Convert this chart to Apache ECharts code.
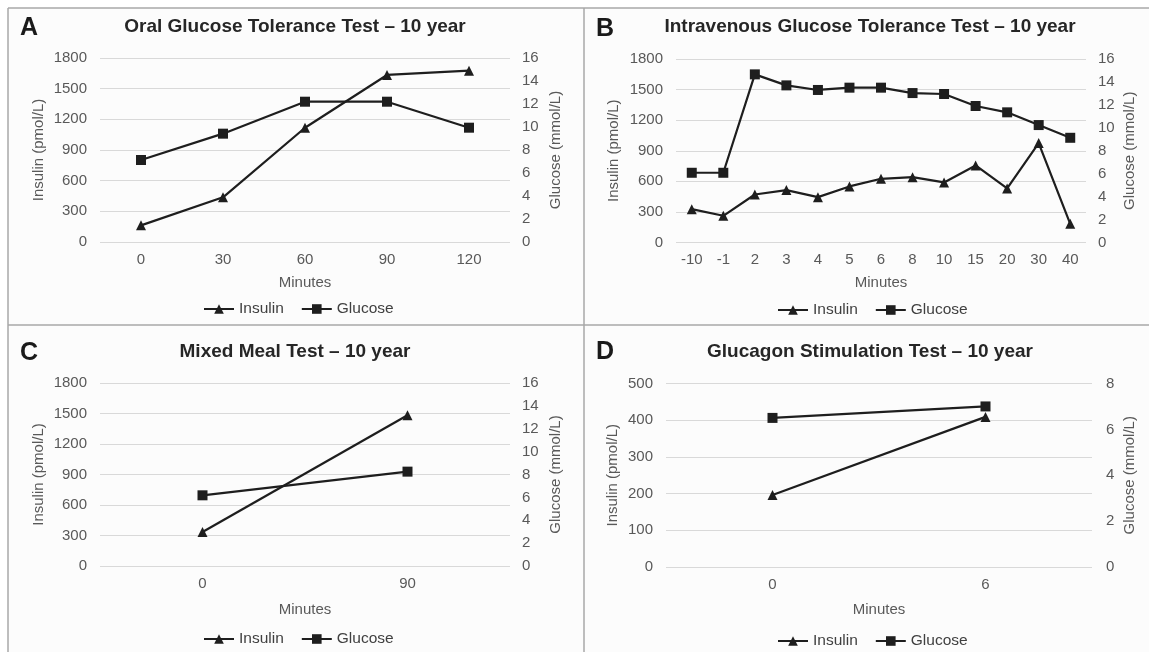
<!DOCTYPE html>
<html>
<head>
<meta charset="utf-8">
<script src="https://cdn.jsdelivr.net/npm/echarts@6/dist/echarts.min.js"></script>
<style>
html,body{margin:0;padding:0;background:#fff;}
#chart{width:1149px;height:652px;}
</style>
</head>
<body>
<div id="chart"></div>
<script>
// ---- Data ----
const seriesNames = ['Insulin', 'Glucose'];
const xName = 'Minutes';
const leftName = 'Insulin (pmol/L)';
const rightName = 'Glucose (mmol/L)';

const titleA = 'Oral Glucose Tolerance Test – 10 year';
const catA = ['0', '30', '60', '90', '120'];
const insulinA = [163, 437, 1118, 1634, 1676];
const glucoseA = [7.13, 9.42, 12.2, 12.2, 9.94];

const titleB = 'Intravenous Glucose Tolerance Test – 10 year';
const catB = ['-10', '-1', '2', '3', '4', '5', '6', '8', '10', '15', '20', '30', '40'];
const insulinB = [327, 262, 471, 514, 445, 550, 625, 641, 589, 756, 530, 975, 183];
const glucoseB = [6.08, 6.08, 14.66, 13.7, 13.3, 13.5, 13.5, 13.03, 12.95, 11.9, 11.35, 10.24, 9.13];

const titleC = 'Mixed Meal Test – 10 year';
const catC = ['0', '90'];
const insulinC = [334, 1482];
const glucoseC = [6.18, 8.25];

const titleD = 'Glucagon Stimulation Test – 10 year';
const catD = ['0', '6'];
const insulinD = [196, 409];
const glucoseD = [6.5, 7.0];

// axis scales [min, max, interval]
const insulinScaleABC = [0, 1800, 300];
const glucoseScaleABC = [0, 16, 2];
const insulinScaleD = [0, 500, 100];
const glucoseScaleD = [0, 8, 2];

// ---- Layout ----
const FONT = '"Liberation Sans", Arial, sans-serif';
const panels = [
  {letter: 'A', title: titleA, cat: catA, ins: insulinA, glu: glucoseA, sIns: insulinScaleABC, sGlu: glucoseScaleABC,
   grid: {left: 100, top: 58, width: 410, height: 184}, lGap: 54, rGap: 38, rMargin: 12, xGap: 33, legend: {left: 198, top: 296},
   titleX: 295, titleY: 27, letterX: 29, letterY: 28},
  {letter: 'B', title: titleB, cat: catB, ins: insulinB, glu: glucoseB, sIns: insulinScaleABC, sGlu: glucoseScaleABC,
   grid: {left: 676, top: 59, width: 410, height: 183.5}, lGap: 55, rGap: 36, rMargin: 12, xGap: 33, legend: {left: 772, top: 297},
   titleX: 870, titleY: 27, letterX: 605, letterY: 29},
  {letter: 'C', title: titleC, cat: catC, ins: insulinC, glu: glucoseC, sIns: insulinScaleABC, sGlu: glucoseScaleABC,
   grid: {left: 100, top: 383, width: 410, height: 183}, lGap: 54, rGap: 38, rMargin: 12, xGap: 36, legend: {left: 198, top: 626},
   titleX: 295, titleY: 352, letterX: 29, letterY: 353},
  {letter: 'D', title: titleD, cat: catD, ins: insulinD, glu: glucoseD, sIns: insulinScaleD, sGlu: glucoseScaleD,
   grid: {left: 666, top: 383.5, width: 426, height: 183.5}, lGap: 46, rGap: 30, rMargin: 14, xGap: 35, legend: {left: 772, top: 628},
   titleX: 870, titleY: 352, letterX: 605, letterY: 352}
];

const grids = [], xAxes = [], yAxes = [], series = [], legends = [], graphics = [];

// background + frame lines
graphics.push({type: 'rect', shape: {x: 8, y: 8, width: 1141, height: 644}, style: {fill: '#fcfcfc'}, z: -10});
const frameLines = [
  [8, 8, 1149, 8], [8, 8, 8, 652], [584, 8, 584, 652], [8, 325, 1149, 325]
];
frameLines.forEach(l => graphics.push({type: 'line', shape: {x1: l[0], y1: l[1], x2: l[2], y2: l[3]},
  style: {stroke: '#a8a8a8', lineWidth: 1.5}, z: -5}));

const axisLabelColor = '#595959';
const plain = v => String(v);
panels.forEach((p, i) => {
  grids.push(Object.assign({containLabel: false}, p.grid));
  xAxes.push({
    type: 'category', gridIndex: i, data: p.cat, boundaryGap: true,
    axisLine: {show: false}, axisTick: {show: false},
    axisLabel: {color: axisLabelColor, fontSize: 15, fontFamily: FONT, margin: 10, interval: 0},
    name: xName, nameLocation: 'middle', nameGap: p.xGap,
    nameTextStyle: {color: axisLabelColor, fontSize: 15, fontFamily: FONT}
  });
  yAxes.push({
    type: 'value', gridIndex: i, position: 'left', min: p.sIns[0], max: p.sIns[1], interval: p.sIns[2],
    axisLine: {show: false}, axisTick: {show: false},
    axisLabel: {color: axisLabelColor, fontSize: 15, fontFamily: FONT, margin: 13, formatter: plain},
    splitLine: {show: true, lineStyle: {color: '#d9d9d9', width: 1}},
    name: leftName, nameLocation: 'middle', nameRotate: 90, nameGap: p.lGap,
    nameTextStyle: {color: axisLabelColor, fontSize: 15, fontFamily: FONT}
  });
  yAxes.push({
    type: 'value', gridIndex: i, position: 'right', min: p.sGlu[0], max: p.sGlu[1], interval: p.sGlu[2],
    axisLine: {show: false}, axisTick: {show: false},
    axisLabel: {color: axisLabelColor, fontSize: 15, fontFamily: FONT, margin: p.rMargin, formatter: plain},
    splitLine: {show: false},
    name: rightName, nameLocation: 'middle', nameRotate: 90, nameGap: p.rGap,
    nameTextStyle: {color: axisLabelColor, fontSize: 15, fontFamily: FONT}
  });
  series.push({
    name: seriesNames[0], type: 'line', xAxisIndex: i, yAxisIndex: 2 * i, data: p.ins,
    symbol: 'triangle', symbolSize: 10, showAllSymbol: true,
    lineStyle: {color: '#1e1e1e', width: 2.2}, itemStyle: {color: '#1e1e1e'}, animation: false
  });
  series.push({
    name: seriesNames[1], type: 'line', xAxisIndex: i, yAxisIndex: 2 * i + 1, data: p.glu,
    symbol: 'rect', symbolSize: 10, showAllSymbol: true,
    lineStyle: {color: '#1e1e1e', width: 2.2}, itemStyle: {color: '#1e1e1e'}, animation: false
  });
  legends.push({
    data: seriesNames, left: p.legend.left, top: p.legend.top, orient: 'horizontal',
    itemWidth: 30, itemHeight: 12, itemGap: 17,
    textStyle: {color: '#404040', fontSize: 15.5, fontFamily: FONT}
  });
  graphics.push({type: 'text', x: p.titleX, y: p.titleY,
    style: {text: p.title, font: 'bold 19px ' + FONT, fill: '#262626', align: 'center', verticalAlign: 'middle'}});
  graphics.push({type: 'text', x: p.letterX, y: p.letterY,
    style: {text: p.letter, font: 'bold 25px ' + FONT, fill: '#1a1a1a', align: 'center', verticalAlign: 'middle'}});
});

const chart = echarts.init(document.getElementById('chart'), null, {renderer: 'canvas'});
chart.setOption({
  backgroundColor: '#ffffff',
  animation: false,
  grid: grids, xAxis: xAxes, yAxis: yAxes, series: series, legend: legends,
  graphic: graphics
});
</script>
</body>
</html>
